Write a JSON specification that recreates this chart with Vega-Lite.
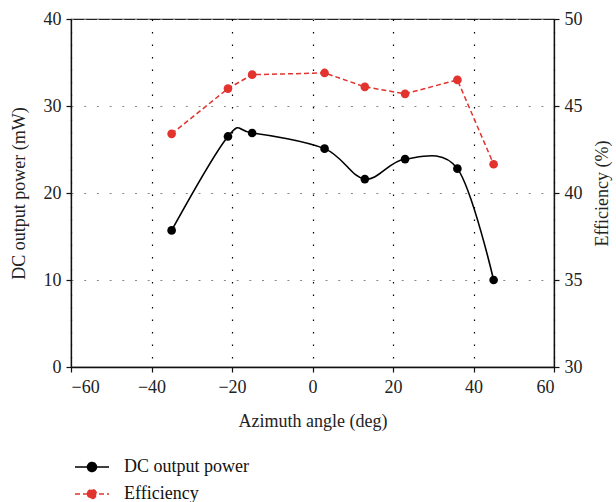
{
  "$schema": "https://vega.github.io/schema/vega-lite/v6.json",
  "width": 483,
  "height": 348,
  "autosize": {"type": "none"},
  "padding": {"left": 71, "top": 19, "right": 62, "bottom": 135},
  "background": "white",
  "config": {
    "font": "Liberation Serif",
    "view": {"stroke": "#222", "strokeWidth": 1.2},
    "axis": {
      "labelFont": "Liberation Serif",
      "titleFont": "Liberation Serif",
      "labelFontSize": 18,
      "titleFontSize": 18,
      "titleFontWeight": "normal",
      "labelColor": "#222",
      "titleColor": "#222",
      "domainColor": "#111",
      "tickColor": "#111",
      "tickSize": 5,
      "domainWidth": 1.3,
      "tickWidth": 1.2
    },
    "legend": {
      "orient": "none",
      "legendX": 10,
      "legendY": 437,
      "direction": "vertical",
      "padding": 0,
      "labelFont": "Liberation Serif",
      "labelFontSize": 18,
      "labelColor": "#111",
      "symbolType": "M-1.7,0H1.7M-0.45,0A0.45,0.45,0,1,1,0.45,0A0.45,0.45,0,1,1,-0.45,0Z",
      "symbolSize": 400,
      "symbolStrokeWidth": 1.5,
      "labelOffset": 21,
      "rowPadding": 7
    }
  },
  "datasets": {
    "d": [
      {"series": "DC output power", "angle": -35, "value": 15.7},
      {"series": "DC output power", "angle": -21, "value": 26.5},
      {"series": "DC output power", "angle": -15, "value": 26.9},
      {"series": "DC output power", "angle": 3, "value": 25.1},
      {"series": "DC output power", "angle": 13, "value": 21.6},
      {"series": "DC output power", "angle": 23, "value": 23.9},
      {"series": "DC output power", "angle": 36, "value": 22.8},
      {"series": "DC output power", "angle": 45, "value": 10.0},
      {"series": "Efficiency", "angle": -35, "value": 43.4},
      {"series": "Efficiency", "angle": -21, "value": 46.0},
      {"series": "Efficiency", "angle": -15, "value": 46.8},
      {"series": "Efficiency", "angle": 3, "value": 46.9},
      {"series": "Efficiency", "angle": 13, "value": 46.1},
      {"series": "Efficiency", "angle": 23, "value": 45.7},
      {"series": "Efficiency", "angle": 36, "value": 46.5},
      {"series": "Efficiency", "angle": 45, "value": 41.65}
    ]
  },
  "data": {"name": "d"},
  "encoding": {
    "x": {
      "field": "angle",
      "type": "quantitative",
      "scale": {"domain": [-60, 60], "nice": false},
      "axis": {
        "title": "Azimuth angle (deg)",
        "values": [-60, -40, -20, 0, 20, 40, 60],
        "grid": true,
        "gridColor": "#000",
        "gridDash": [1.5, 11],
        "gridWidth": 1.2,
        "labelPadding": 6,
        "titlePadding": 16
      }
    },
    "color": {
      "field": "series",
      "type": "nominal",
      "scale": {"domain": ["DC output power", "Efficiency"], "range": ["#000000", "#e2332e"]},
      "legend": {
        "title": null,
        "encode": {
          "symbols": {
            "update": {
              "fill": {"scale": "color", "field": "value"},
              "stroke": {"scale": "color", "field": "value"}
            }
          }
        }
      }
    }
  },
  "layer": [
    {
      "transform": [{"filter": "datum.series === 'DC output power'"}],
      "encoding": {
        "y": {
          "field": "value",
          "type": "quantitative",
          "scale": {"domain": [0, 40], "nice": false},
          "axis": {
            "title": "DC output power (mW)",
            "values": [0, 10, 20, 30, 40],
            "grid": true,
            "gridColor": "#888",
            "gridDash": [2, 10.7],
            "gridWidth": 1.2,
            "labelPadding": 5,
            "titlePadding": 15
          }
        }
      },
      "layer": [
        {"mark": {"type": "line", "interpolate": "cardinal", "strokeWidth": 1.6}},
        {"mark": {"type": "point", "filled": true, "size": 75, "opacity": 1}}
      ]
    },
    {
      "transform": [{"filter": "datum.series === 'Efficiency'"}],
      "encoding": {
        "y": {
          "field": "value",
          "type": "quantitative",
          "scale": {"domain": [30, 50], "nice": false},
          "axis": {
            "orient": "right",
            "title": "Efficiency (%)",
            "values": [30, 35, 40, 45, 50],
            "grid": false,
            "labelPadding": 5,
            "titlePadding": 11,
            "titleAngle": -90,
            "titleBaseline": "top"
          }
        }
      },
      "layer": [
        {
          "mark": {"type": "line", "strokeWidth": 1.5, "strokeDash": [7, 4]},
          "encoding": {
            "strokeDash": {
              "field": "series",
              "type": "nominal",
              "scale": {"domain": ["DC output power", "Efficiency"], "range": [[1, 0], [5, 3]]},
              "legend": {"title": null}
            }
          }
        },
        {"mark": {"type": "point", "filled": true, "size": 75, "opacity": 1}}
      ]
    }
  ],
  "resolve": {"scale": {"y": "independent"}}
}
